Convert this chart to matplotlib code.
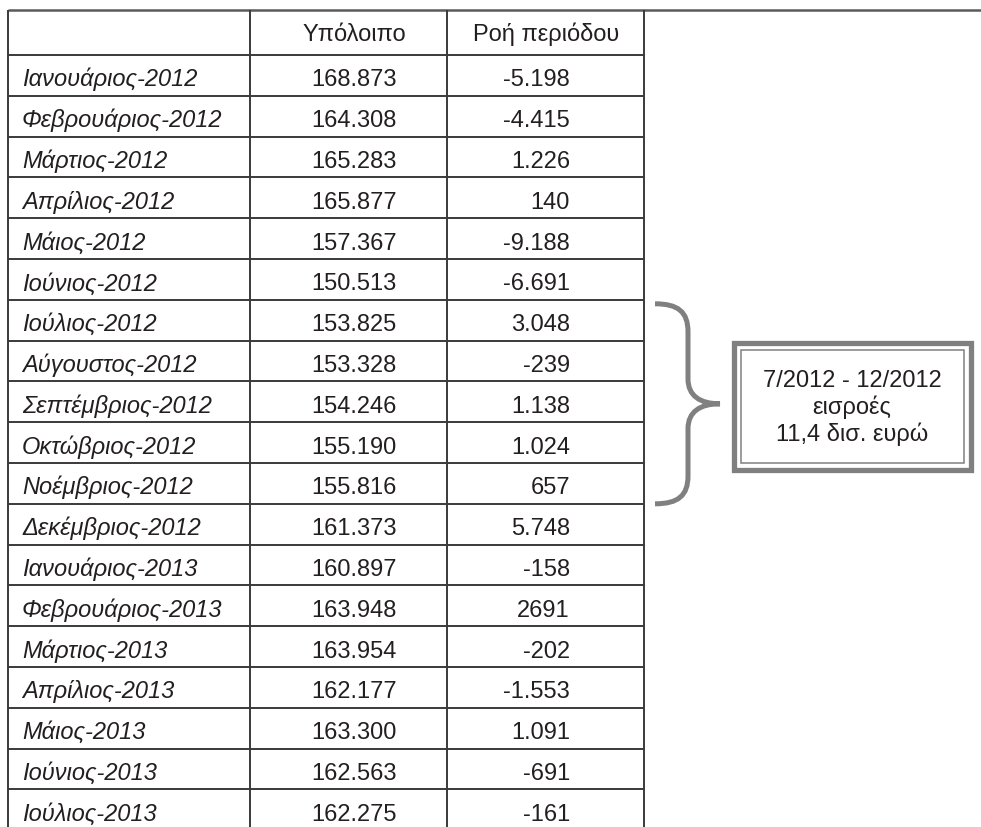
import matplotlib
matplotlib.use("Agg")
import matplotlib.pyplot as plt
from matplotlib.path import Path
import matplotlib.patches as mpatches

plt.rcParams["font.family"] = ["Liberation Sans", "DejaVu Sans"]

# ── Data ──────────────────────────────────────────────────────────────────────
headers = ["Υπόλοιπο", "Ροή περιόδου"]
months = [
    "Ιανουάριος-2012", "Φεβρουάριος-2012", "Μάρτιος-2012", "Απρίλιος-2012",
    "Μάιος-2012", "Ιούνιος-2012", "Ιούλιος-2012", "Αύγουστος-2012",
    "Σεπτέμβριος-2012", "Οκτώβριος-2012", "Νοέμβριος-2012", "Δεκέμβριος-2012",
    "Ιανουάριος-2013", "Φεβρουάριος-2013", "Μάρτιος-2013", "Απρίλιος-2013",
    "Μάιος-2013", "Ιούνιος-2013", "Ιούλιος-2013",
]
balance = [
    "168.873", "164.308", "165.283", "165.877", "157.367", "150.513",
    "153.825", "153.328", "154.246", "155.190", "155.816", "161.373",
    "160.897", "163.948", "163.954", "162.177", "163.300", "162.563", "162.275",
]
flow = [
    "-5.198", "-4.415", "1.226", "140", "-9.188", "-6.691",
    "3.048", "-239", "1.138", "1.024", "657", "5.748",
    "-158", "2691", "-202", "-1.553", "1.091", "-691", "-161",
]
note_text = "7/2012 - 12/2012\nεισροές\n11,4 δισ. ευρώ"
brace_rows = (6, 11)   # Ιούλιος-2012 .. Νοέμβριος-2012

# ── Layout (pixel coordinates) ────────────────────────────────────────────────
W, H = 981, 828
COL_X = [8, 250, 447, 644]
TOP = 11
HEAD_BOTTOM = 56
ROW_H = 40.8
TXT = "#231f20"
LINE = "#3a3a3a"
GREY = "#808080"
FS = 17

fig = plt.figure(figsize=(W / 100, H / 100), dpi=100)
ax = fig.add_axes([0, 0, 1, 1])
ax.set_xlim(0, W)
ax.set_ylim(H, 0)
ax.axis("off")

# grid lines
ax.plot([COL_X[0], W], [TOP, TOP], color="#5a5a5a", lw=1.8, solid_capstyle="butt")
for x in COL_X:
    ax.plot([x, x], [TOP, H], color=LINE, lw=1.4, solid_capstyle="butt")
for i in range(len(months)):
    y = HEAD_BOTTOM + i * ROW_H
    ax.plot([COL_X[0], COL_X[-1]], [y, y], color=LINE, lw=1.4, solid_capstyle="butt")

# header
ax.text(354, 41, headers[0], ha="center", va="baseline", fontsize=FS, color=TXT)
ax.text(546, 41, headers[1], ha="center", va="baseline", fontsize=FS, color=TXT)

# rows
for i, (m, b, f) in enumerate(zip(months, balance, flow)):
    yb = HEAD_BOTTOM + (i + 0.5) * ROW_H + 10
    ax.text(22, yb, m, ha="left", va="baseline", fontsize=FS, color=TXT, style="italic")
    ax.text(354, yb, b, ha="center", va="baseline", fontsize=FS, color=TXT)
    ax.text(570, yb, f, ha="right", va="baseline", fontsize=FS, color=TXT)

# brace
y0 = HEAD_BOTTOM + brace_rows[0] * ROW_H + 4
y1 = HEAD_BOTTOM + brace_rows[1] * ROW_H
ym = (y0 + y1) / 2
xl, xv, xt = 655, 688, 720
verts = [
    (xl, y0), (678, y0), (xv, y0 + 8), (xv, y0 + 28),
    (xv, ym - 25),
    (xv, ym - 8), (700, ym), (xt, ym),
    (700, ym), (xv, ym + 8), (xv, ym + 25),
    (xv, y1 - 28),
    (xv, y1 - 8), (678, y1), (xl, y1),
]
codes = [Path.MOVETO, Path.CURVE4, Path.CURVE4, Path.CURVE4,
         Path.LINETO,
         Path.CURVE4, Path.CURVE4, Path.CURVE4,
         Path.CURVE4, Path.CURVE4, Path.CURVE4,
         Path.LINETO,
         Path.CURVE4, Path.CURVE4, Path.CURVE4]
ax.add_patch(mpatches.PathPatch(Path(verts, codes), fill=False, edgecolor=GREY,
                                lw=3.6, capstyle="butt"))

# double-framed note box
ax.add_patch(mpatches.Rectangle((734, 344), 237, 127, fill=False,
                                edgecolor=GREY, lw=3.8))
ax.add_patch(mpatches.Rectangle((741, 351), 223, 113, fill=False,
                                edgecolor=GREY, lw=1.1))
ax.text(852, 408, note_text, ha="center", va="center", fontsize=FS,
        color=TXT, linespacing=1.2, multialignment="center")

fig.savefig("out.png", dpi=100)
